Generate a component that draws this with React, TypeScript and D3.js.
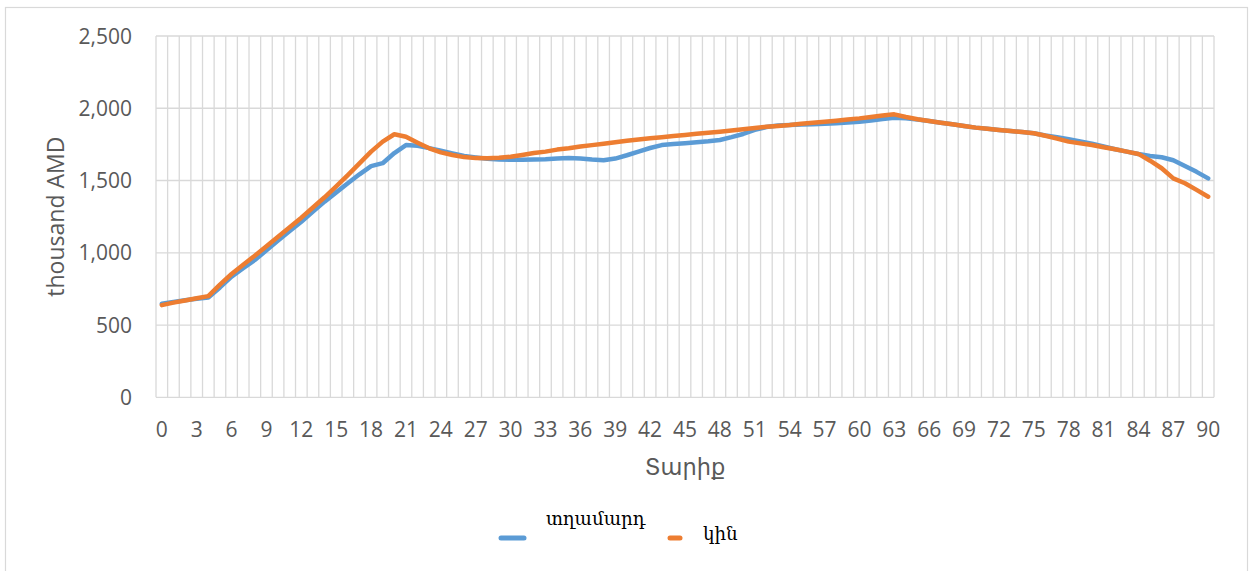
import { useEffect, useRef } from 'react';
import * as d3 from 'd3';

// ages 0..90 on the category axis
const ages = d3.range(0, 91);

// monthly wage, thousand AMD
const maleValues = [
  648, 660, 672, 682, 690, 760, 835, 893, 950, 1017,
  1084, 1150, 1215, 1285, 1354, 1418, 1481, 1543, 1600, 1620,
  1690, 1745, 1740, 1724, 1706, 1688, 1670, 1660, 1650, 1646,
  1644, 1643, 1645, 1647, 1652, 1655, 1652, 1645, 1640, 1652,
  1675, 1700, 1725, 1745, 1752, 1758, 1764, 1771, 1780, 1800,
  1822, 1850, 1870, 1880, 1884, 1888, 1890, 1893, 1897, 1902,
  1907, 1915, 1925, 1935, 1930, 1922, 1912, 1900, 1889, 1877,
  1866, 1858, 1850, 1842, 1835, 1827, 1812, 1800, 1785, 1770,
  1755, 1735, 1716, 1700, 1684, 1670, 1661, 1640, 1600, 1560,
  1515,
];

const femaleValues = [
  638, 655, 670, 685, 700, 780, 853, 917, 980, 1045,
  1111, 1177, 1243, 1313, 1384, 1460, 1538, 1619, 1700, 1769,
  1820, 1803, 1762, 1723, 1695, 1677, 1662, 1655, 1654, 1658,
  1665, 1677, 1690, 1700, 1714, 1723, 1735, 1745, 1755, 1765,
  1775, 1784, 1792, 1800, 1808, 1815, 1823, 1830, 1838, 1846,
  1855, 1863, 1872, 1878, 1884, 1893, 1900, 1907, 1914, 1922,
  1930, 1940, 1950, 1958, 1940, 1924, 1912, 1900, 1889, 1877,
  1866, 1858, 1850, 1843, 1835, 1827, 1810, 1790, 1769, 1757,
  1746, 1730, 1716, 1700, 1684, 1637, 1585, 1515, 1481, 1435,
  1388,
];

const yTicks = [0, 500, 1000, 1500, 2000, 2500];
const seriesNames = ['տղամարդ', 'կին'];
const seriesColors = ['#5B9BD5', '#ED7D31'];

const W = 1250;
const H = 571;
const plot = { left: 156, right: 1214, top: 36, bottom: 397.3 };
const textGray = '#595959';
const gridColor = '#D9D9D9';
const sansFont = 'Open Sans, DejaVu Sans, sans-serif';

export default function App() {
  const svgRef = useRef<SVGSVGElement>(null);

  useEffect(() => {
    if (!svgRef.current) return;
    const svg = d3.select(svgRef.current);
    svg.selectAll('*').remove();

    const x = d3.scaleBand<number>()
      .domain(ages)
      .range([plot.left, plot.right])
      .paddingInner(0)
      .paddingOuter(0);
    const y = d3.scaleLinear().domain([0, 2500]).range([plot.bottom, plot.top]);
    const cx = (a: number) => (x(a) || 0) + x.bandwidth() / 2;

    // outer chart border
    svg.append('rect')
      .attr('x', 5.5).attr('y', 7.5)
      .attr('width', 1242).attr('height', 580)
      .attr('fill', 'white')
      .attr('stroke', gridColor).attr('stroke-width', 1.2);

    // vertical gridlines, between categories
    const g = svg.append('g');
    const vLines = ages.map(a => x(a) || 0).concat([plot.right]);
    g.selectAll('.vgrid')
      .data(vLines)
      .enter().append('line')
      .attr('x1', d => d).attr('x2', d => d)
      .attr('y1', plot.top).attr('y2', plot.bottom)
      .attr('stroke', gridColor).attr('stroke-width', 1.3);

    // horizontal gridlines
    g.selectAll('.hgrid')
      .data(yTicks)
      .enter().append('line')
      .attr('x1', plot.left).attr('x2', plot.right)
      .attr('y1', d => y(d)).attr('y2', d => y(d))
      .attr('stroke', gridColor).attr('stroke-width', 1.3);

    // y tick labels
    svg.selectAll('.ylab')
      .data(yTicks)
      .enter().append('text')
      .attr('x', 132)
      .attr('y', d => y(d))
      .attr('dy', '0.36em')
      .attr('text-anchor', 'end')
      .style('font-family', sansFont)
      .style('font-size', '21px')
      .style('fill', textGray)
      .text(d => d3.format(',')(d));

    // x tick labels, every third age
    svg.selectAll('.xlab')
      .data(ages.filter(a => a % 3 === 0))
      .enter().append('text')
      .attr('x', d => cx(d))
      .attr('y', 436.7)
      .attr('text-anchor', 'middle')
      .style('font-family', sansFont)
      .style('font-size', '21px')
      .style('fill', textGray)
      .text(d => String(d));

    // axis titles
    svg.append('text')
      .attr('transform', `translate(63.5,${(plot.top + plot.bottom) / 2}) rotate(-90)`)
      .attr('text-anchor', 'middle')
      .style('font-family', sansFont)
      .style('font-size', '23px')
      .style('fill', textGray)
      .text('thousand AMD');

    svg.append('text')
      .attr('x', (plot.left + plot.right) / 2)
      .attr('y', 475)
      .attr('text-anchor', 'middle')
      .style('font-family', sansFont)
      .style('font-size', '22.5px')
      .style('fill', textGray)
      .text('Տարիք');

    // series lines
    const line = d3.line<number>()
      .x((_, i) => cx(ages[i]))
      .y(d => y(d));

    [maleValues, femaleValues].forEach((vals, k) => {
      svg.append('path')
        .datum(vals)
        .attr('d', line)
        .attr('fill', 'none')
        .attr('stroke', seriesColors[k])
        .attr('stroke-width', 4.5)
        .attr('stroke-linejoin', 'round')
        .attr('stroke-linecap', 'round');
    });

    // legend (keeps the odd wrapped layout of the original)
    const legend = svg.append('g');
    legend.append('line')
      .attr('x1', 501).attr('x2', 524)
      .attr('y1', 538).attr('y2', 538)
      .attr('stroke', seriesColors[0]).attr('stroke-width', 5)
      .attr('stroke-linecap', 'round');
    legend.append('text')
      .attr('x', 546).attr('y', 525)
      .style('font-family', 'DejaVu Serif, serif')
      .style('font-size', '18.3px')
      .style('fill', '#000')
      .text(seriesNames[0]);
    legend.append('line')
      .attr('x1', 670).attr('x2', 680)
      .attr('y1', 538).attr('y2', 538)
      .attr('stroke', seriesColors[1]).attr('stroke-width', 5)
      .attr('stroke-linecap', 'round');
    legend.append('text')
      .attr('x', 703).attr('y', 540)
      .style('font-family', 'DejaVu Serif, serif')
      .style('font-size', '18.3px')
      .style('fill', '#000')
      .text(seriesNames[1]);
  }, []);

  return (
    <svg
      ref={svgRef}
      width={W}
      height={H}
      style={{ position: 'absolute', left: 0, top: 0, background: 'white' }}
    />
  );
}
